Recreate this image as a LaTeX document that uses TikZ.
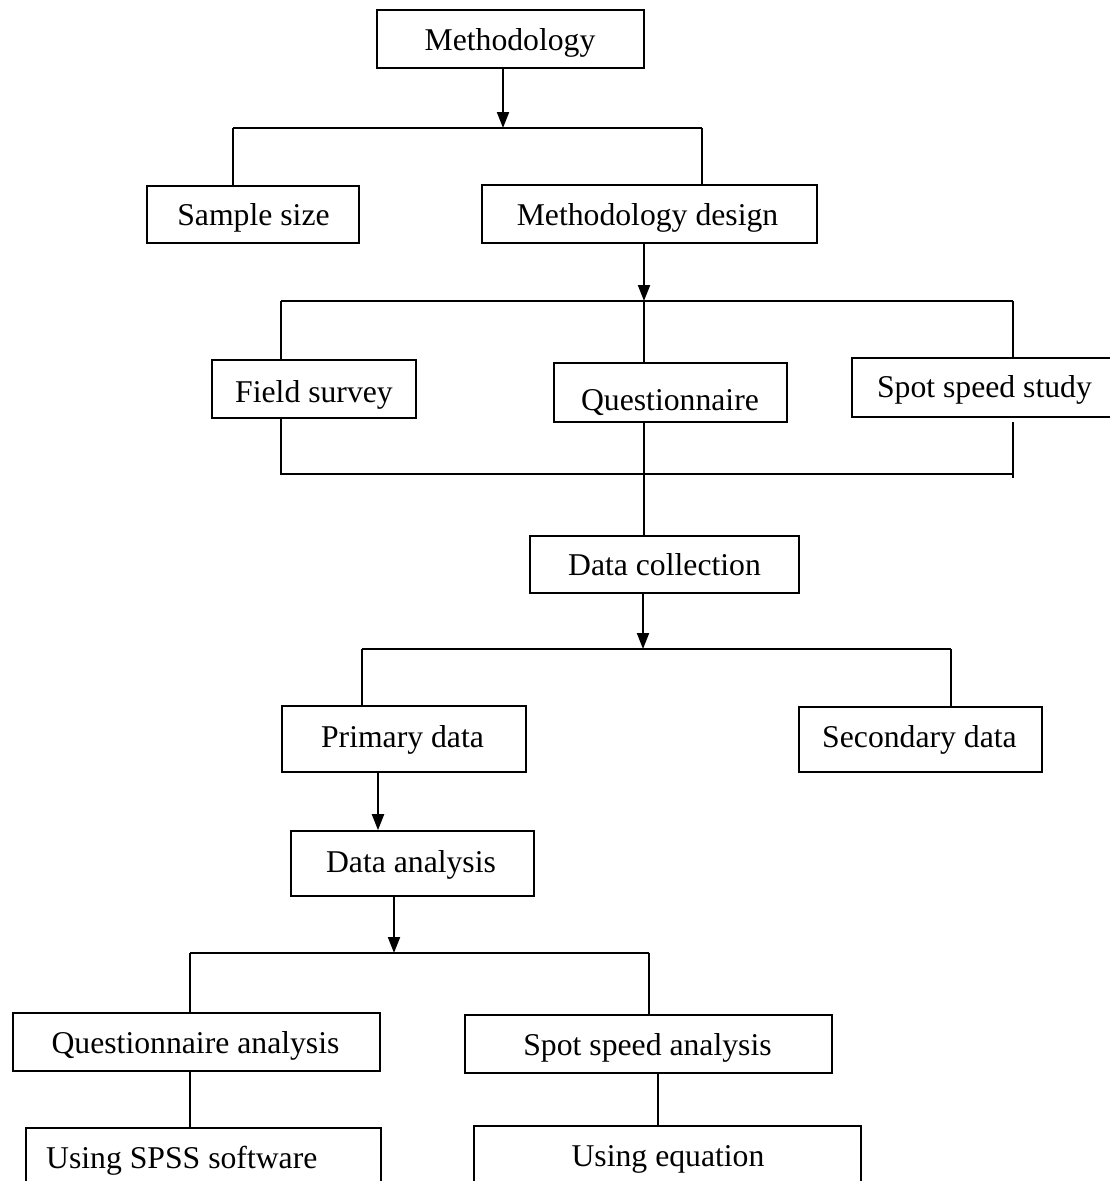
\documentclass[tikz,border=0pt]{standalone}
\usepackage{fontspec}
\setmainfont{Liberation Serif}
\usetikzlibrary{arrows.meta}
\tikzset{
  box/.style={draw=black, line width=1.6pt, rectangle, inner sep=0pt},
  txt/.style={font=\fontsize{31.7pt}{38pt}\selectfont, inner sep=0pt, anchor=base},
  conn/.style={draw=black, line width=1.3pt},
  arr/.style={draw=black, line width=2pt, -{Triangle[length=16pt,width=12pt]}}
}
\newcommand{\mybox}[5]{% name, x1, x2, y1, y2
  \node[box, minimum width={(#3)-(#2)}, minimum height={(#5)-(#4)}] (#1) at ({((#2)+(#3))/2},{((#4)+(#5))/2}) {};}
\begin{document}
\begin{tikzpicture}[x=1pt,y=-1pt]
\useasboundingbox (0,0) rectangle (1110,1181);
\fill[white] (0,0) rectangle (1110,1181);
\clip (0,0) rectangle (1110,1181);

% boxes
\mybox{meth}{377}{644}{10}{68}
\mybox{sample}{147}{359}{186}{243}
\mybox{mdesign}{482}{817}{185}{243}
\mybox{field}{212}{416}{360}{418}
\mybox{quest}{554}{787}{363}{422}
\mybox{spot}{852}{1118}{358}{417}
\mybox{datacol}{530}{799}{536}{593}
\mybox{primary}{282}{526}{706}{772}
\mybox{secondary}{799}{1042}{707}{772}
\mybox{analysis}{291}{534}{831}{896}
\mybox{qanal}{13}{380}{1013}{1071}
\mybox{sanal}{465}{832}{1015}{1073}
\mybox{spss}{26}{381}{1128}{1210}
\mybox{eqn}{474}{861}{1126}{1210}

% texts
\node[txt] (meth-t) at (510,50) {Methodology};
\node[txt] (sample-t) at (253.5,225) {Sample size};
\node[txt] (mdesign-t) at (647.5,225) {Methodology design};
\node[txt] (field-t) at (314,402) {Field survey};
\node[txt] (quest-t) at (670,410) {Questionnaire};
\node[txt] (spot-t) at (984.5,397) {Spot speed study};
\node[txt] (datacol-t) at (664.5,575) {Data collection};
\node[txt] (primary-t) at (402.5,747) {Primary data};
\node[txt] (secondary-t) at (919.5,747) {Secondary data};
\node[txt] (analysis-t) at (411,872) {Data analysis};
\node[txt] (qanal-t) at (195.5,1053) {Questionnaire analysis};
\node[txt] (sanal-t) at (647.5,1055) {Spot speed analysis};
\node[txt, anchor=base west] (spss-t) at (46,1168) {Using SPSS software};
\node[txt] (eqn-t) at (668,1166) {Using equation};

% bus coordinates
\coordinate (b1m) at (503,128);
\coordinate (b1l) at (233,128);
\coordinate (b1r) at (702,128);

\coordinate (b2m) at (644,301);
\coordinate (b2l) at (281,301);
\coordinate (b2r) at (1013,301);

\coordinate (b3l) at (281,474);
\coordinate (b3r) at (1013,474);
\coordinate (b3m) at (644,474);
\coordinate (b3rt) at (1013,422);
\coordinate (b3rb) at (1013,478);

\coordinate (b4m) at (643,649);
\coordinate (b4l) at (362,649);
\coordinate (b4r) at (951,649);

\coordinate (b5m) at (394,953);
\coordinate (b5l) at (190,953);
\coordinate (b5r) at (649,953);

\coordinate (b6l) at (190,1071);
\coordinate (b6r) at (658,1073);

% level 1
\draw[arr] (meth.south -| b1m) -- (b1m);
\draw[conn] (b1l) -- (b1r);
\draw[conn] (b1l) -- (b1l |- sample.north);
\draw[conn] (b1r) -- (b1r |- mdesign.north);

% level 2
\draw[arr] (mdesign.south -| b2m) -- (b2m);
\draw[conn] (b2l) -- (b2r);
\draw[conn] (b2l) -- (b2l |- field.north);
\draw[conn] (b2m) -- (b2m |- quest.north);
\draw[conn] (b2r) -- (b2r |- spot.north);

% merge
\draw[conn] (b2l |- field.south) -- (b3l) -- (b3r);
\draw[conn] (b3rt) -- (b3rb);
\draw[conn] (b3m |- quest.south) -- (b3m |- datacol.north);

% level 3
\draw[arr] (datacol.south -| b4m) -- (b4m);
\draw[conn] (b4l) -- (b4r);
\draw[conn] (b4l) -- (b4l |- primary.north);
\draw[conn] (b4r) -- (b4r |- secondary.north);

% level 4
\draw[arr] (primary.south -| 378,0) -- (378,0 |- analysis.north);
\draw[arr] (analysis.south -| b5m) -- (b5m);
\draw[conn] (b5l) -- (b5r);
\draw[conn] (b5l) -- (b5l |- qanal.north);
\draw[conn] (b5r) -- (b5r |- sanal.north);

% level 5
\draw[conn] (b6l |- qanal.south) -- (b6l |- spss.north);
\draw[conn] (b6r |- sanal.south) -- (b6r |- eqn.north);
\end{tikzpicture}
\end{document}
